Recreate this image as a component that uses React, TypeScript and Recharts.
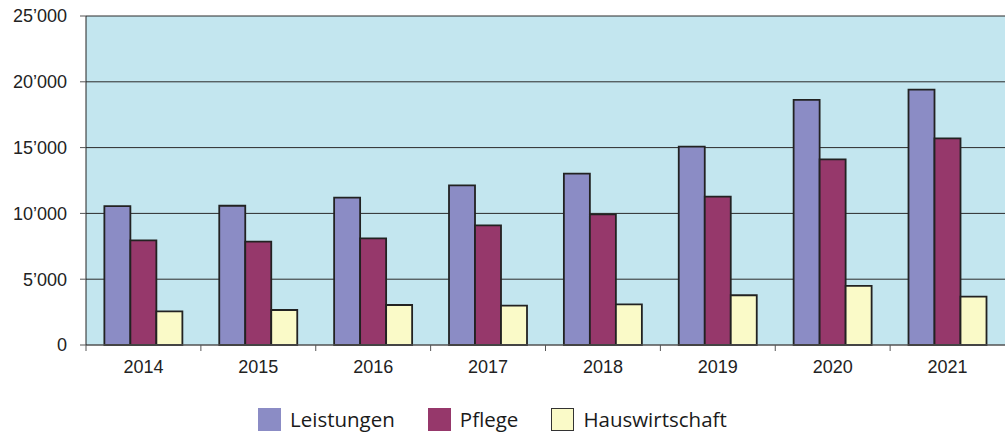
import React from 'react';
import { BarChart, Bar, XAxis, YAxis, CartesianGrid } from 'recharts';

const years = ['2014', '2015', '2016', '2017', '2018', '2019', '2020', '2021'];
const leistungen = [10550, 10580, 11200, 12130, 13020, 15070, 18620, 19400];
const pflege = [7950, 7850, 8100, 9090, 9930, 11270, 14100, 15700];
const hauswirtschaft = [2560, 2660, 3040, 2990, 3090, 3780, 4500, 3680];
const yTicks = [0, 5000, 10000, 15000, 20000, 25000];

const series = [
    { key: 'leistungen', name: 'Leistungen', color: '#8b8cc5' },
    { key: 'pflege', name: 'Pflege', color: '#96386b' },
    { key: 'hauswirtschaft', name: 'Hauswirtschaft', color: '#fafac8' },
];

const data = years.map((year, i) => ({
    year,
    leistungen: leistungen[i],
    pflege: pflege[i],
    hauswirtschaft: hauswirtschaft[i],
}));

const formatThousands = (v: number) => {
    if (v === 0) return '0';
    const s = String(v);
    return s.slice(0, s.length - 3) + '\u2019' + s.slice(s.length - 3);
};

// tick mark sits on the category boundary, label in the middle
const YearTick = (props: any) => {
    const { x, y, payload } = props;
    const off = payload.offset ?? 0;
    return (
        <g>
            <line x1={x - off} x2={x - off} y1={y} y2={y + 6} stroke="#555" strokeWidth={1} />
            <text x={x} y={y + 28} textAnchor="middle" fill="#222" fontSize={18} fontFamily="'Liberation Sans', Arial, sans-serif">
                {payload.value}
            </text>
        </g>
    );
};

const App = () => {
    return (
        <div style={{ position: 'absolute', left: 0, top: 0, width: 1005, height: 435, background: '#fff' }}>
            <BarChart
                width={1005}
                height={435}
                data={data}
                margin={{ top: 16, right: 0, left: 0, bottom: 60 }}
                barGap={0}
                barCategoryGap="16%"
            >
                <CartesianGrid vertical={false} stroke="#2a2a2a" fill="#c3e6ef" fillOpacity={1} />
                <XAxis
                    dataKey="year"
                    height={30}
                    tickLine={false}
                    tickSize={0}
                    tickMargin={0}
                    axisLine={{ stroke: '#666' }}
                    tick={<YearTick />}
                    interval={0}
                />
                <YAxis
                    width={86}
                    domain={[0, 25000]}
                    ticks={yTicks}
                    tickFormatter={formatThousands}
                    tickSize={6}
                    tickMargin={13}
                    axisLine={{ stroke: '#222' }}
                    tickLine={{ stroke: '#555' }}
                    tick={{ fill: '#222', fontSize: 18, fontFamily: "'Liberation Sans', Arial, sans-serif" }}
                />
                {series.map((s) => (
                    <Bar
                        key={s.key}
                        dataKey={s.key}
                        name={s.name}
                        fill={s.color}
                        stroke="#222"
                        strokeWidth={1.8}
                        isAnimationActive={false}
                    />
                ))}
            </BarChart>
            <div
                style={{
                    position: 'absolute',
                    left: 258,
                    top: 408,
                    display: 'flex',
                    alignItems: 'center',
                    fontFamily: "'Open Sans', 'DejaVu Sans', sans-serif",
                    fontSize: 20.5,
                    color: '#1a1a1a',
                }}
            >
                {series.map((s) => (
                    <div key={s.key} style={{ display: 'flex', alignItems: 'center', marginRight: 33 }}>
                        <div
                            style={{
                                width: s.key === 'hauswirtschaft' ? 21 : 23,
                                height: s.key === 'hauswirtschaft' ? 21 : 23,
                                background: s.color,
                                border: s.key === 'hauswirtschaft' ? '1px solid #333' : 'none',
                                marginRight: 9,
                            }}
                        />
                        <span style={{ lineHeight: '23px' }}>{s.name}</span>
                    </div>
                ))}
            </div>
        </div>
    );
};

export default App;
